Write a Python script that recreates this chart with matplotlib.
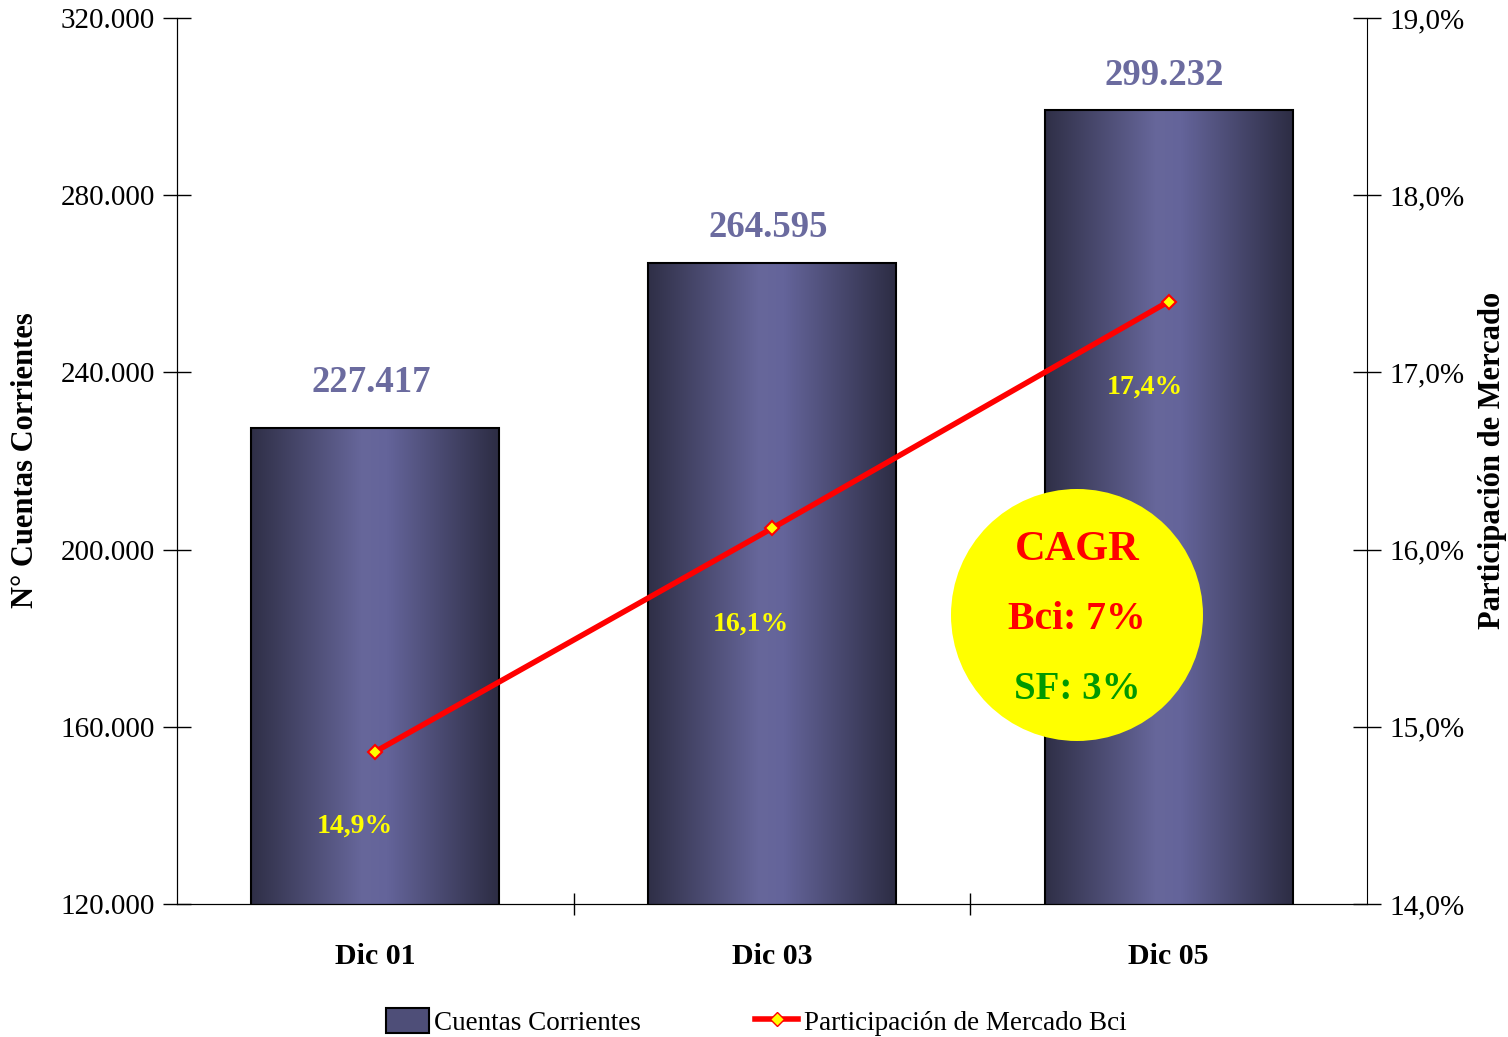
import matplotlib.pyplot as plt
import numpy as np
from matplotlib.colors import LinearSegmentedColormap
from matplotlib.patches import Ellipse, Patch
from matplotlib.lines import Line2D
from matplotlib.ticker import FuncFormatter

plt.rcParams['font.family'] = ['Liberation Serif', 'DejaVu Serif']

# data
categories = ["Dic 01", "Dic 03", "Dic 05"]
cuentas = [227417, 264595, 299232]
participacion = [14.86, 16.12, 17.40]
value_offsets = [26, 19, 18]  # label offsets above bars, points
pct_offsets = [(-15, -54), (-15, -69), (-17, -62)]  # label offsets in points

fig = plt.figure(figsize=(15.08, 10.37), dpi=100)
ax = fig.add_axes([177 / 1508, 1 - 904 / 1037, (1367 - 177) / 1508, (904 - 18) / 1037])
ax2 = ax.twinx()

x = np.arange(len(categories))
width = 0.625

# bars with horizontal cylinder-like gradient
bar_cmap = LinearSegmentedColormap.from_list(
    "bar", [(0, "#2f2f47"), (0.45, "#67679b"), (0.55, "#64649a"), (1, "#2d2d44")])
grad = np.linspace(0, 1, 256).reshape(1, -1)
bars = ax.bar(x, cuentas, width, bottom=0, color="none", edgecolor="black",
              linewidth=1.5, zorder=3)
for xi, h, off in zip(x, cuentas, value_offsets):
    ax.imshow(grad, cmap=bar_cmap, extent=[xi - width / 2, xi + width / 2, 120000, h],
              aspect="auto", zorder=2, interpolation="bilinear")
    ax.annotate(f"{h:,}".replace(",", "."), (xi, h), xytext=(-3, off), textcoords="offset points",
                ha="center", va="baseline", fontsize=26.5, fontweight="bold", color="#6b6b9f")

ax.set_xlim(-0.5, 2.5)
ax.set_ylim(120000, 320000)
ax.set_yticks(np.arange(120000, 320001, 40000))
ax.yaxis.set_major_formatter(FuncFormatter(lambda v, p: f"{int(v):,}".replace(",", ".")))
ax.set_xticks(x)
ax.set_xticklabels(categories, fontsize=21.5, fontweight="bold")
ax.set_xticks([0.5, 1.5], minor=True)
ax.tick_params(axis="x", which="major", length=0, pad=28)
ax.tick_params(axis="x", which="minor", direction="inout", length=16, width=1)
ax.tick_params(axis="y", direction="inout", length=20, width=1, labelsize=21, pad=6)
ax.set_ylabel("N° Cuentas Corrientes", fontsize=22, fontweight="bold")
ax.yaxis.set_label_coords(-0.115, 0.501)
for s in ["top", "right"]:
    ax.spines[s].set_visible(False)

# market share line
ax2.plot(x, participacion, color="#ff0000", linewidth=4, marker="D", markersize=7,
         markerfacecolor="#ffff00", markeredgecolor="#ff0000", markeredgewidth=1.5, zorder=4)
for xi, v, off in zip(x, participacion, pct_offsets):
    ax2.annotate(f"{v:.1f}%".replace(".", ","), (xi, v), xytext=off, textcoords="offset points",
                 ha="center", va="center", fontsize=20, fontweight="bold", color="#ffff00")
ax2.set_ylim(14, 19)
ax2.set_yticks(np.arange(14, 19.01, 1))
ax2.yaxis.set_major_formatter(FuncFormatter(lambda v, p: f"{v:.1f}%".replace(".", ",")))
ax2.tick_params(axis="y", direction="inout", length=20, width=1, labelsize=21, pad=6)
ax2.set_ylabel("Participación de Mercado", fontsize=22, fontweight="bold")
ax2.yaxis.set_label_coords(1.093, 0.501)
ax2.spines["top"].set_visible(False)

# CAGR bubble
circle = Ellipse((0.7563, 0.3262), 252 / 1190, 252 / 886, transform=ax2.transAxes,
                 facecolor="#ffff00", edgecolor="none", zorder=5)
ax2.add_patch(circle)
ax2.text(0.7563, 0.399, "CAGR", transform=ax2.transAxes, ha="center", va="center",
         fontsize=30.5, fontweight="bold", color="#ff0000", zorder=6)
ax2.text(0.7563, 0.321, "Bci: 7%", transform=ax2.transAxes, ha="center", va="center",
         fontsize=28.5, fontweight="bold", color="#ff0000", zorder=6)
ax2.text(0.7563, 0.242, "SF: 3%", transform=ax2.transAxes, ha="center", va="center",
         fontsize=28, fontweight="bold", color="#009900", zorder=6)

# legend
handles = [Patch(facecolor="#4e4e78", edgecolor="black", linewidth=1.5),
           Line2D([], [], color="#ff0000", linewidth=4, marker="D", markersize=7,
                  markerfacecolor="#ffff00", markeredgecolor="#ff0000")]
fig.legend(handles, ["Cuentas Corrientes", "Participación de Mercado Bci"],
           loc="center", bbox_to_anchor=(756 / 1508, 1 - 1022 / 1037), ncol=2,
           frameon=False, fontsize=19.5, columnspacing=4.2, handlelength=1.6,
           handleheight=1.0, handletextpad=0.2)

fig.savefig("out.png", dpi=100)
plt.close(fig)
